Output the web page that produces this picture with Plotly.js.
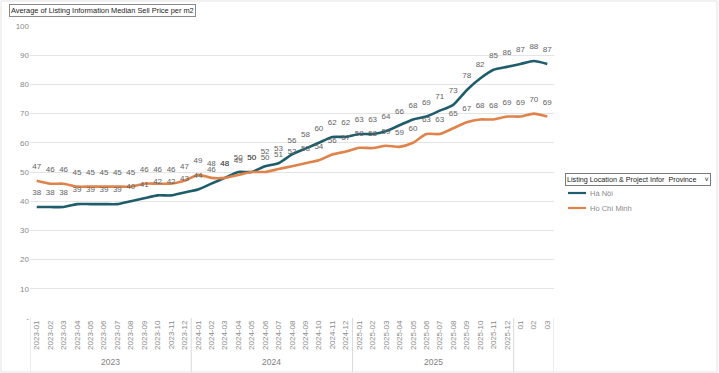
<!DOCTYPE html>
<html><head><meta charset="utf-8">
<script src="https://cdn.plot.ly/plotly-3.0.1.min.js"></script>
<style>html,body{margin:0;padding:0;background:#fff}#chart{width:719px;height:373px}</style>
</head><body><div id="chart"></div>
<script>
const monthLabels = [
  '2023-01','2023-02','2023-03','2023-04','2023-05','2023-06','2023-07','2023-08','2023-09','2023-10','2023-11','2023-12',
  '2024-01','2024-02','2024-03','2024-04','2024-05','2024-06','2024-07','2024-08','2024-09','2024-10','2024-11','2024-12',
  '2025-01','2025-02','2025-03','2025-04','2025-05','2025-06','2025-07','2025-08','2025-09','2025-10','2025-11','2025-12',
  '01','02','03'];
const yearGroups = ['2023','2024','2025',''];
const yearGroupSizes = [12,12,12,3];
const haNoi = [38,38,38,39,39,39,39,40,41,42,42,43,
               44,46,48,50,50,52,53,56,58,60,62,62,
               63,63,64,66,68,69,71,73,78,82,85,86,
               87,88,87];
const hoChiMinh = [47,46,46,45,45,45,45,45,46,46,46,47,
                   49,48,48,49,50,50,51,52,53,54,56,57,
                   58.3,58.2,59,58.6,60,63,63,65,67,68,68,69,
                   69,70,69];
const seriesNames = ['Hà Nội','Hồ Chí Minh'];
const seriesColors = ['#1F5D6C','#E0834A'];
const yTickVals = [0,10,20,30,40,50,60,70,80,90,100];
const yTickText = ['-','10','20','30','40','50','60','70','80','90','100'];

const FONT = 'Liberation Sans, Arial, sans-serif';
const LABEL_COLOR = '#626262';

const L = 30, R = 165, T = 26, B = 55, W = 719, H = 373;
const pw = W - L - R, ph = H - T - B;
const px2x = p => (p - L) / pw;
const py2y = p => (H - B - p) / ph;

const seriesData = [haNoi, hoChiMinh];
const traces = [];
seriesNames.forEach((name, i) => {
  traces.push({
    type: 'scatter', mode: 'lines', name: name, x: monthLabels, y: seriesData[i],
    line: {color: seriesColors[i], width: 2.6, shape: 'spline', smoothing: 0.6},
    hoverinfo: 'x+y'
  });
});
seriesNames.forEach((name, i) => {
  const y = seriesData[i];
  traces.push({
    type: 'scatter', mode: 'markers+text', name: name + ' labels', x: monthLabels, y: y,
    marker: {size: 14, opacity: 0, color: '#ffffff'},
    text: y.map(v => Math.round(v).toString()),
    textposition: 'top center',
    textfont: {family: FONT, size: 8, color: LABEL_COLOR},
    hoverinfo: 'skip'
  });
});

const shapes = [];
const annotations = [];
let start = 0;
shapes.push({type:'line', xref:'x', yref:'paper', x0:-0.5, x1:-0.5, y0:0, y1:py2y(372), line:{color:'#d9d9d9', width:1}});
yearGroups.forEach((g, i) => {
  const end = start + yearGroupSizes[i];
  shapes.push({type:'line', xref:'x', yref:'paper', x0:end-0.5, x1:end-0.5, y0:0, y1:py2y(372), line:{color:'#d9d9d9', width:1}});
  if (g) annotations.push({xref:'x', yref:'paper', x:(start+end-1)/2, y:py2y(362), text:g, showarrow:false,
    font:{family:FONT, size:8.5, color:'#7f7f7f'}, xanchor:'center', yanchor:'middle'});
  start = end;
});
shapes.push({type:'rect', xref:'paper', yref:'paper', x0:px2x(1), x1:px2x(717), y0:py2y(372), y1:py2y(1), line:{color:'#e3e3e3', width:1}});

annotations.push({xref:'paper', yref:'paper', x:px2x(9), y:py2y(10), xanchor:'left', yanchor:'middle',
  text:'Average of Listing Information Median Sell Price per m2', showarrow:false,
  font:{family:FONT, size:7.4, color:'#222'}, bordercolor:'#8a8a8a', borderwidth:1, borderpad:1, bgcolor:'#fff'});
annotations.push({xref:'paper', yref:'paper', x:px2x(565), y:py2y(179), xanchor:'left', yanchor:'middle',
  text:'Listing Location &amp; Project Infor\u00a0\u00a0Province\u00a0\u00a0\u00a0\u00a0\u02c5', showarrow:false, align:'left',
  font:{family:FONT, size:7.2, color:'#222'}, bordercolor:'#7a7a7a', borderwidth:1, borderpad:1, bgcolor:'#fff'});

// legend entries (drawn manually for Excel-like compact layout)
const legendRows = [193, 208];
seriesNames.forEach((name, i) => {
  shapes.push({type:'line', xref:'paper', yref:'paper', x0:px2x(568), x1:px2x(586), y0:py2y(legendRows[i]), y1:py2y(legendRows[i]),
    line:{color:seriesColors[i], width:2.2}});
  annotations.push({xref:'paper', yref:'paper', x:px2x(588), y:py2y(legendRows[i]), xanchor:'left', yanchor:'middle',
    text:name, showarrow:false, font:{family:FONT, size:7.5, color:'#8a8a8a'}});
});

const layout = {
  width: W, height: H,
  margin: {l:L, r:R, t:T, b:B, pad:0},
  paper_bgcolor:'#fff', plot_bgcolor:'#fff',
  font: {family: FONT, size: 8, color:'#7f7f7f'},
  showlegend: false,
  xaxis: {type:'category', tickangle:-90, showgrid:false, ticks:'', showline:false, zeroline:false,
    tickfont:{family:FONT, size:8, color:'#8a8a8a'}, range:[-0.5, monthLabels.length-0.5], fixedrange:true},
  yaxis: {range:[0,100], tickvals:yTickVals, ticktext:yTickText, showgrid:true, gridcolor:'#e4e4e4', gridwidth:1,
    zeroline:false, showline:false, ticks:'', tickfont:{family:FONT, size:8, color:'#8a8a8a'}, fixedrange:true},
  shapes: shapes, annotations: annotations
};
Plotly.newPlot('chart', traces, layout, {displayModeBar:false, staticPlot:true});
</script>
</body></html>
